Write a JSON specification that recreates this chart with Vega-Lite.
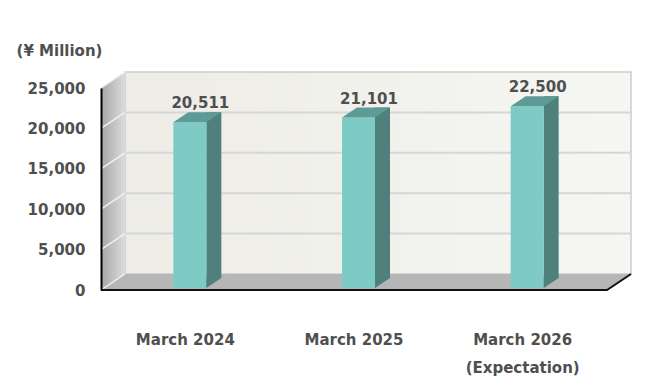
{
  "$schema": "https://vega.github.io/schema/vega-lite/v6.json",
  "width": 506,
  "height": 202,
  "autosize": "none",
  "padding": {"left": 101, "top": 88, "right": 52, "bottom": 101},
  "background": "white",
  "config": {"view": {"stroke": null}, "font": "DejaVu Sans"},
  "datasets": {
    "bars": [
      {"period": "March 2024", "value": 20511},
      {"period": "March 2025", "value": 21101},
      {"period": "March 2026\n(Expectation)", "value": 22500}
    ],
    "ticks": [{"tick": 0}, {"tick": 5000}, {"tick": 10000}, {"tick": 15000}, {"tick": 20000}, {"tick": 25000}]
  },
  "resolve": {"scale": {"x": "independent"}},
  "layer": [
    {
      "data": {"name": "ticks"},
      "transform": [{"filter": "datum.tick == 0"}],
      "mark": {
        "type": "rect", "xOffset": 24, "x2Offset": 24, "yOffset": -16, "y2Offset": -16,
        "fill": {"gradient": "linear", "x1": 0, "y1": 0, "x2": 1, "y2": 0,
          "stops": [{"offset": 0, "color": "#edece6"}, {"offset": 1, "color": "#f6f6f3"}]},
        "stroke": "#cdcdcd", "strokeWidth": 1.5
      },
      "encoding": {
        "x": {"datum": 0, "type": "quantitative", "scale": {"domain": [0, 1]}, "axis": null},
        "x2": {"datum": 1},
        "y": {
          "field": "tick", "type": "quantitative",
          "scale": {"domain": [0, 25000], "nice": false, "zero": true},
          "axis": {
            "values": [0, 5000, 10000, 15000, 20000, 25000], "format": ",d",
            "title": "(¥ Million)", "titleAngle": 0, "titleAlign": "center", "titleBaseline": "middle",
            "titleX": -42, "titleY": -38, "titleFont": "DejaVu Sans", "titleFontSize": 15,
            "titleFontWeight": "bold", "titleColor": "#4f4f4f",
            "labelFont": "DejaVu Sans", "labelFontSize": 15, "labelFontWeight": "bold", "labelColor": "#4f4f4f",
            "labelPadding": 16, "ticks": false, "grid": false,
            "domainColor": "#000000", "domainWidth": 2, "zindex": 1
          }
        },
        "y2": {"datum": 25000}
      }
    },
    {
      "data": {"name": "ticks"},
      "transform": [{"filter": "datum.tick > 0 && datum.tick < 25000"}],
      "mark": {"type": "rule", "xOffset": 24, "x2Offset": 24, "yOffset": -16, "color": "#d6d6d6", "strokeWidth": 2},
      "encoding": {
        "x": {"datum": 0, "type": "quantitative", "scale": {"domain": [0, 1]}, "axis": null},
        "x2": {"datum": 1},
        "y": {"field": "tick", "type": "quantitative"}
      }
    },
    {
      "data": {"name": "ticks"},
      "transform": [{"filter": "datum.tick == 0"}],
      "mark": {"type": "point", "shape": "M0,0 L506,0 L530,-16 L24,-16 Z", "size": 4, "filled": true, "opacity": 1, "color": "#b6b6b6", "strokeWidth": 0},
      "encoding": {
        "x": {"datum": 0, "type": "quantitative", "scale": {"domain": [0, 1]}, "axis": null},
        "y": {"field": "tick", "type": "quantitative"}
      }
    },
    {
      "data": {"name": "ticks"},
      "transform": [{"filter": "datum.tick == 0"}],
      "mark": {
        "type": "point", "shape": "M0,0 L24,-16 L24,-218 L0,-202 Z", "size": 4, "opacity": 1, "strokeWidth": 0,
        "fill": {"gradient": "linear", "x1": 0, "y1": 0, "x2": 1, "y2": 0,
          "stops": [{"offset": 0, "color": "#a6a6a6"}, {"offset": 1, "color": "#dcdcdc"}]}
      },
      "encoding": {
        "x": {"datum": 0, "type": "quantitative", "scale": {"domain": [0, 1]}, "axis": null},
        "y": {"field": "tick", "type": "quantitative"}
      }
    },
    {
      "data": {"name": "ticks"},
      "mark": {"type": "point", "shape": "M0,0 L24,-16", "size": 4, "filled": false, "opacity": 1, "stroke": "#f0f0f0", "strokeWidth": 1.5},
      "encoding": {
        "x": {"datum": 0, "type": "quantitative", "scale": {"domain": [0, 1]}, "axis": null},
        "y": {"field": "tick", "type": "quantitative"}
      }
    },
    {
      "data": {"name": "ticks"},
      "transform": [{"filter": "datum.tick == 0"}],
      "mark": {"type": "point", "shape": "M0,0 L506,0 L530,-16", "size": 4, "filled": false, "opacity": 1, "stroke": "#111111", "strokeWidth": 2},
      "encoding": {
        "x": {"datum": 0, "type": "quantitative", "scale": {"domain": [0, 1]}, "axis": null},
        "y": {"field": "tick", "type": "quantitative"}
      }
    },
    {
      "data": {"name": "bars"},
      "encoding": {
        "x": {
          "field": "period", "type": "nominal", "sort": null,
          "scale": {"paddingInner": 0.8, "paddingOuter": 0.4},
          "axis": {
            "title": null, "labelAngle": 0, "labelExpr": "split(datum.label, '\\n')",
            "labelFont": "DejaVu Sans", "labelFontSize": 15, "labelFontWeight": "bold", "labelColor": "#4f4f4f",
            "labelPadding": 42, "labelLineHeight": 28, "ticks": false, "tickSize": 0, "domain": false, "grid": false
          }
        },
        "y": {"field": "value", "type": "quantitative"}
      },
      "layer": [
        {"mark": {"type": "bar", "width": 15, "xOffset": 28.5, "yOffset": -12, "y2Offset": -12, "color": "#4f807c"}},
        {"mark": {"type": "bar", "width": 33, "xOffset": 4.5, "yOffset": -2, "y2Offset": -2, "color": "#7ecbc5"}},
        {"mark": {"type": "point", "shape": "M-12,-2 L21,-2 L36,-12 L3,-12 Z", "size": 4, "filled": true, "opacity": 1, "color": "#5e9b96", "strokeWidth": 0}},
        {
          "mark": {"type": "point", "shape": "M21,-12 L21,-2 L36,-12 Z", "size": 4, "filled": true, "opacity": 1, "color": "#4f807c", "strokeWidth": 0},
          "encoding": {"y": {"datum": 0, "type": "quantitative"}}
        },
        {
          "mark": {"type": "text", "dx": 15, "dy": -16, "baseline": "alphabetic", "font": "DejaVu Sans", "fontSize": 15, "fontWeight": "bold", "color": "#4f4f4f"},
          "encoding": {"text": {"field": "value", "type": "quantitative", "format": ",d"}}
        }
      ],
      "resolve": {"scale": {"x": "shared"}}
    }
  ]
}
